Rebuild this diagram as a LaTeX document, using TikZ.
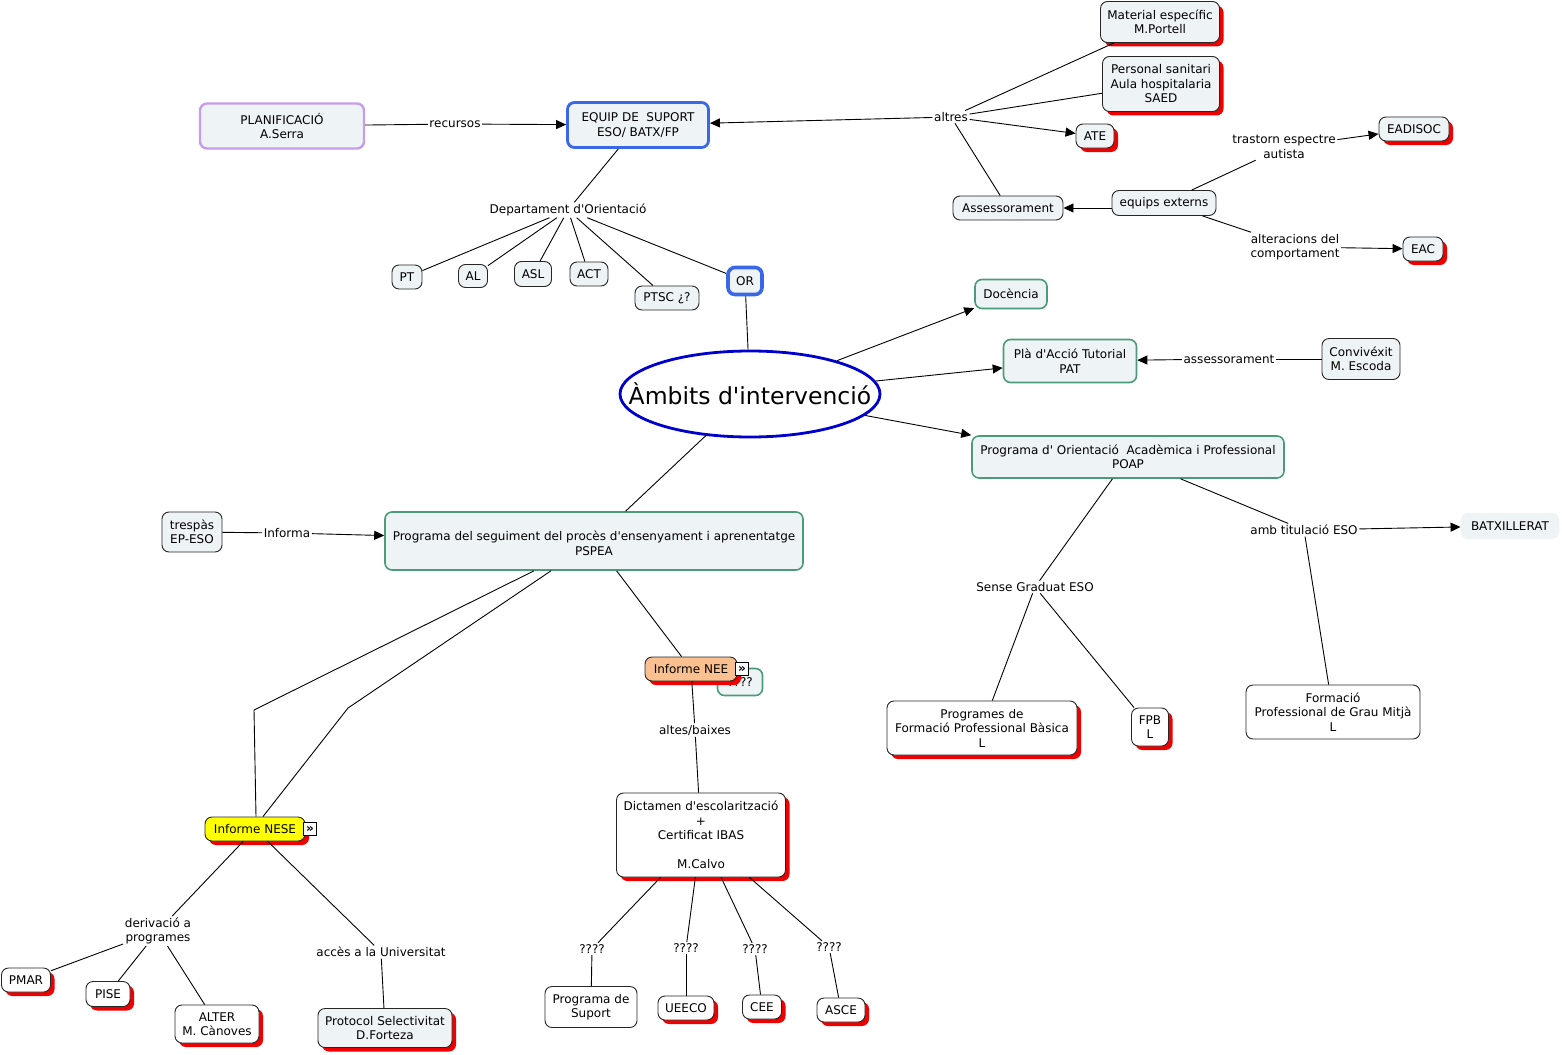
\documentclass[tikz,border=0pt]{standalone}
\usepackage{fontspec}
\setmainfont{DejaVu Sans}[Ligatures=TeXOff]
\usepackage{xcolor}
\usetikzlibrary{arrows.meta, shapes.geometric, shadows}
\definecolor{cellbg}{HTML}{EEF3F5}
\definecolor{planpurple}{HTML}{C79DEB}
\definecolor{keyblue}{HTML}{3A66E8}
\definecolor{ambitgreen}{HTML}{4B9B78}
\definecolor{ellipseblue}{HTML}{0000CC}
\definecolor{neeorange}{HTML}{FAC08F}
\definecolor{neseyellow}{HTML}{FFFF00}
\definecolor{shadowred}{HTML}{EE0000}
\newcommand{\mapfont}{\fontsize{12}{14.5}\selectfont}

\begin{document}
\begin{tikzpicture}[x=1pt, y=-1pt,
          every node/.style={font=\mapfont},
          concept/.style={rectangle, rounded corners=7pt, draw=black!85, fill=cellbg,
                          line width=0.9pt, align=center, inner xsep=4pt, inner ysep=5pt},
          dims/.style 2 args={minimum width=#1, minimum height=#2},
          whitebox/.style={concept, fill=white},
          redshadow/.style={drop shadow={shadow xshift=4pt, shadow yshift=-4pt,
                            fill=shadowred, opacity=1}},
          ambit/.style={concept, draw=ambitgreen, line width=1.6pt},
          keybox/.style={concept, draw=keyblue, line width=2.8pt},
          phrase/.style={fill=white, inner sep=1.5pt, align=center},
          link/.style={draw=black, line width=0.9pt},
          arr/.style={link, -{Triangle[length=10pt, width=9pt]}},
          iconbox/.style={draw=black, fill=white, inner sep=0pt, minimum size=13pt,
                          font=\fontsize{12}{12}\selectfont\bfseries}
        ]
        \useasboundingbox (0,0) rectangle (1562,1054);

        % Equip de suport
        \node[concept, draw=planpurple, line width=2.4pt, dims={164pt}{45pt}] (plan) at (282,126) {PLANIFICACIÓ\\A.Serra};
        \node[keybox, dims={141pt}{45pt}] (equip) at (638,125) {EQUIP DE\ \ SUPORT\\ESO/ BATX/FP};
        \node[phrase] (recursos) at (455,124) {recursos};
        \draw[link] (plan) -- (recursos);
        \draw[arr] (recursos) -- (equip);

        \node[phrase] (altres) at (951,117) {altres};
        \node[concept, redshadow, dims={119pt}{41pt}] (material) at (1160,22) {Material específic\\M.Portell};
        \node[concept, redshadow, dims={117pt}{55pt}] (personal) at (1161,84) {Personal sanitari\\Aula hospitalaria\\SAED};
        \node[concept, redshadow, dims={38pt}{24pt}] (ate) at (1095,136) {ATE};
        \node[concept, dims={110pt}{24pt}] (assess) at (1008,208) {Assessorament};
        \draw[arr] (altres) -- (equip);
        \draw[link] (altres) -- (material);
        \draw[link] (altres) -- (personal);
        \draw[arr] (altres) -- (ate);
        \draw[link] (altres) -- (assess);

        \node[concept, dims={104pt}{25pt}] (externs) at (1164,203) {equips externs};
        \draw[arr] (externs.west |- assess.east) -- (assess.east);
        \node[phrase] (tea) at (1284,147) {trastorn espectre\\autista};
        \node[concept, redshadow, dims={70pt}{24pt}] (eadisoc) at (1414,129) {EADISOC};
        \node[phrase] (conducta) at (1295,247) {alteracions del\\comportament};
        \node[concept, redshadow, dims={40pt}{24pt}] (eac) at (1423,249) {EAC};
        \draw[link] (externs) -- (tea);
        \draw[arr] (tea) -- (eadisoc);
        \draw[link] (externs) -- (conducta);
        \draw[arr] (conducta) -- (eac);

        % Departament d'Orientacio
        \node[phrase] (dept) at (568,210) {Departament d'Orientació};
        \node[concept, dims={30pt}{24pt}] (pt) at (407,277) {PT};
        \node[concept, dims={29pt}{23pt}] (al) at (473,276) {AL};
        \node[concept, dims={37pt}{25pt}] (asl) at (533,274) {ASL};
        \node[concept, dims={38pt}{24pt}] (act) at (589,274) {ACT};
        \node[concept, dims={64pt}{24pt}] (ptsc) at (667,298) {PTSC ¿?};
        \node[keybox, line width=3.6pt, dims={34pt}{27pt}] (orient) at (745,281) {OR};
        \draw[link] (equip) -- (dept);
        \foreach \n in {pt, al, asl, act, ptsc, orient}
          \draw[link] (dept) -- (\n);

        % Ambits
        \node[ellipse, draw=ellipseblue, fill=white, line width=2.8pt, dims={260pt}{86pt},
              label={[font=\fontsize{23.5}{28}\selectfont]center:Àmbits d'intervenció}] (ambits) at (750,394) {};
        \draw[link] (orient) -- (ambits);

        \node[ambit, dims={72pt}{29pt}] (docencia) at (1011,294) {Docència};
        \node[ambit, dims={133pt}{43pt}] (pat) at (1070,361) {Plà d'Acció Tutorial\\PAT};
        \node[phrase] (assessor) at (1229,359) {assessorament};
        \node[concept, dims={78pt}{41pt}] (convivexit) at (1361,359) {Convivéxit\\M. Escoda};
        \node[ambit, dims={312pt}{42pt}] (poap) at (1128,457) {Programa d' Orientació\ \ Acadèmica i Professional\\POAP};
        \node[ambit, dims={418pt}{58pt}] (pspea) at (594,541) {\mbox{}\\Programa del seguiment del procès d'ensenyament i aprenentatge\\PSPEA};
        \draw[arr] (ambits) -- (docencia);
        \draw[arr] (ambits) -- (pat);
        \draw[arr] (ambits) -- (poap.north west);
        \draw[link] (ambits) -- (pspea);
        \draw[link] (convivexit) -- (assessor);
        \draw[arr] (assessor) -- (pat);

        \node[concept, dims={60pt}{40pt}] (trespas) at (192,532) {trespàs\\EP-ESO};
        \node[phrase] (informa) at (287,533) {Informa};
        \draw[link] (trespas) -- (informa);
        \draw[arr] (informa) -- (pspea);

        % POAP
        \node[phrase] (sense) at (1035,587) {Sense Graduat ESO};
        \node[whitebox, redshadow, dims={190pt}{54pt}] (pfpb) at (982,728) {Programes de\\Formació Professional Bàsica\\L};
        \node[whitebox, redshadow, dims={37pt}{38pt}] (fpb) at (1150,727) {FPB\\L};
        \node[phrase] (titulacio) at (1304,530) {amb titulació ESO};
        \node[concept, draw=cellbg, dims={98pt}{25pt}] (batx) at (1510,526) {BATXILLERAT};
        \node[whitebox, dims={174pt}{54pt}] (grau) at (1333,712) {Formació\\Professional de Grau Mitjà\\L};
        \draw[link] (poap) -- (sense);
        \draw[link] (sense) -- (pfpb);
        \draw[link] (sense) -- (fpb);
        \draw[link] (poap) -- (titulacio);
        \draw[arr] (titulacio) -- (batx);
        \draw[link] (titulacio) -- (grau);

        % Informe NEE
        \node[ambit, dims={45pt}{27pt}] (neeq) at (740,682) {????};
        \node[concept, fill=neeorange, redshadow, dims={92pt}{24pt}] (nee) at (691,669) {Informe NEE};
        \node[iconbox] (neeicon) at (742,669) {»};
        \node[phrase] (altes) at (695,730) {altes/baixes};
        \node[whitebox, redshadow, dims={169pt}{84pt}] (dictamen) at (701,835) {Dictamen d'escolarització\\+\\Certificat IBAS\\[14.5pt]M.Calvo};
        \draw[link] (pspea) -- (nee);
        \draw[link] (nee) -- (altes);
        \draw[link] (altes) -- (dictamen);

        \node[phrase] (q1) at (592,949) {????};
        \node[phrase] (q2) at (686,948) {????};
        \node[phrase] (q3) at (755,949) {????};
        \node[phrase] (q4) at (829,947) {????};
        \node[whitebox, dims={92pt}{41pt}] (suport) at (591,1007) {Programa de\\Suport};
        \node[whitebox, redshadow, dims={56pt}{24pt}] (ueeco) at (686,1008) {UEECO};
        \node[whitebox, redshadow, dims={39pt}{24pt}] (cee) at (762,1007) {CEE};
        \node[whitebox, redshadow, dims={48pt}{24pt}] (asce) at (841,1010) {ASCE};
        \foreach \q/\t in {q1/suport, q2/ueeco, q3/cee, q4/asce} {
          \draw[link] (dictamen) -- (\q);
          \draw[link] (\q) -- (\t);
        }

        % Informe NESE
        \node[concept, fill=neseyellow, redshadow, dims={100pt}{24pt}] (nese) at (255,829) {Informe NESE};
        \node[iconbox] (neseicon) at (310,829) {»};
        \coordinate (bendA) at (254,710);
        \coordinate (bendB) at (348,708);
        \draw[link] ([xshift=-60pt]pspea.south) -- (bendA) -- ([xshift=1pt]nese.north);
        \draw[link] ([xshift=-43pt]pspea.south) -- (bendB) -- ([xshift=8pt]nese.north);

        \node[phrase] (derivacio) at (158,931) {derivació a\\programes};
        \node[whitebox, redshadow, dims={49pt}{24pt}] (pmar) at (26,980) {PMAR};
        \node[whitebox, redshadow, dims={44pt}{25pt}] (pise) at (108,994) {PISE};
        \node[whitebox, redshadow, dims={84pt}{38pt}] (alter) at (217,1024) {ALTER\\M. Cànoves};
        \node[phrase] (acces) at (381,952) {accès a la Universitat};
        \node[concept, redshadow, dims={134pt}{39pt}] (protocol) at (385,1028) {Protocol Selectivitat\\D.Forteza};
        \draw[link] (nese) -- (derivacio);
        \foreach \n in {pmar, pise, alter}
          \draw[link] (derivacio) -- (\n);
        \draw[link] (nese) -- (acces);
        \draw[link] (acces) -- (protocol);
      \end{tikzpicture}
\end{document}
